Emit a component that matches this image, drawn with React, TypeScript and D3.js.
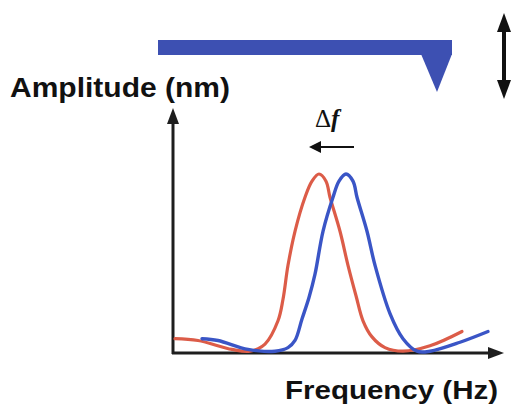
import React from "react";
import * as d3 from "d3";

const redFreq = [2, 25, 59, 77, 92, 105, 110, 115, 122, 132, 139, 146, 153, 157, 167, 175, 183, 190, 199, 212, 230, 257, 289];
const redAmp = [0.08, 0.07, 0.02, 0.01, 0.05, 0.18, 0.3, 0.49, 0.68, 0.87, 0.96, 1.0, 0.96, 0.87, 0.68, 0.49, 0.32, 0.18, 0.09, 0.03, 0.01, 0.04, 0.12];
const blueFreq = [29, 45, 75, 102, 115, 122, 129, 136, 142, 150, 160, 166, 173, 180, 184, 194, 202, 217, 230, 244, 257, 287, 315];
const blueAmp = [0.08, 0.07, 0.02, 0.01, 0.03, 0.07, 0.19, 0.31, 0.44, 0.68, 0.87, 0.96, 1.0, 0.96, 0.87, 0.68, 0.49, 0.22, 0.08, 0.01, 0.01, 0.06, 0.12];
const xLabel = "Frequency (Hz)";
const yLabel = "Amplitude (nm)";
const shiftLabel = "f";

export default function App() {
  const W = 511, H = 411;
  const x = d3.scaleLinear().domain([0, 330]).range([173, 503]);
  const y = d3.scaleLinear().domain([0, 1]).range([353, 174]);
  const line = d3
    .line<[number, number]>()
    .x((d) => x(d[0]))
    .y((d) => y(d[1]))
    .curve(d3.curveCatmullRom.alpha(0.5));
  const red = redFreq.map((f, i) => [f, redAmp[i]] as [number, number]);
  const blue = blueFreq.map((f, i) => [f, blueAmp[i]] as [number, number]);
  const x0 = x(0), y0 = y(0);
  const axisCol = "#1e1e1e";
  return (
    <svg
      width={W}
      height={H}
      style={{ position: "absolute", left: 0, top: 0, background: "#fff" }}
    >
      {/* cantilever */}
      <rect x={158} y={40} width={294} height={15} fill="#3d50b2" />
      <polygon points="421,54 452,54 437,92" fill="#3d50b2" />
      {/* double arrow */}
      <line x1={504} y1={28} x2={504} y2={84} stroke="#111" strokeWidth={4} />
      <polygon points="504,13 497,32 511,32" fill="#111" />
      <polygon points="504,99 497,80 511,80" fill="#111" />
      {/* labels */}
      <text
        x={10}
        y={97}
        fontFamily="Liberation Sans, Arial, sans-serif"
        fontWeight="bold"
        fontSize={27}
        textLength={220}
        lengthAdjust="spacingAndGlyphs"
        fill="#111"
      >
        {yLabel}
      </text>
      <text
        x={285}
        y={399}
        fontFamily="Liberation Sans, Arial, sans-serif"
        fontWeight="bold"
        fontSize={25}
        textLength={213}
        lengthAdjust="spacingAndGlyphs"
        fill="#111"
      >
        {xLabel}
      </text>
      {/* delta f */}
      <text x={315} y={127} fontFamily="Liberation Serif, Times New Roman, serif" fontSize={25} fill="#111">
        Δ
        <tspan fontStyle="italic" fontWeight="bold">{shiftLabel}</tspan>
      </text>
      <line x1={318} y1={147} x2={354} y2={147} stroke="#111" strokeWidth={2} />
      <polygon points="309,147 321,141 321,153" fill="#111" />
      {/* axes */}
      <line x1={x0} y1={y0 + 1} x2={x0} y2={122} stroke={axisCol} strokeWidth={3} />
      <polygon points={`${x0},108 ${x0 - 6},124 ${x0 + 6},124`} fill={axisCol} />
      <line x1={x0 - 1} y1={y0} x2={490} y2={y0} stroke={axisCol} strokeWidth={3} />
      <polygon points={`504,${y0} 488,${y0 - 6} 488,${y0 + 6}`} fill={axisCol} />
      {/* curves */}
      <path d={line(red) || ""} fill="none" stroke="#dc5c48" strokeWidth={3.2} strokeLinecap="round" />
      <path d={line(blue) || ""} fill="none" stroke="#3a55c6" strokeWidth={3.4} strokeLinecap="round" />
    </svg>
  );
}
